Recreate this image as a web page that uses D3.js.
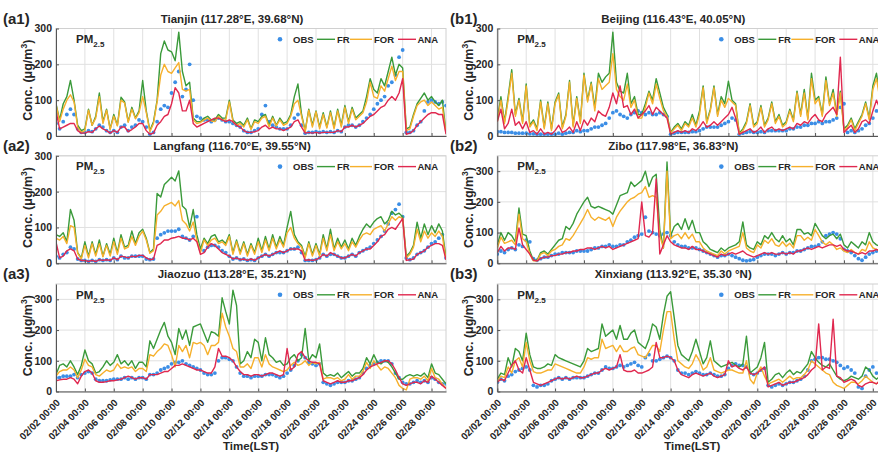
<!DOCTYPE html>
<html><head><meta charset="utf-8">
<script src="https://cdn.jsdelivr.net/npm/d3@7"></script>
<style>
body{margin:0;background:#fff}
svg{display:block}
text{font-family:"Liberation Sans",Arial,Helvetica,sans-serif;font-weight:bold;fill:#262626}
</style>
</head><body>
<svg id="chart" width="878" height="455"></svg>
<script>
// ---------- time axis (6-hourly samples from 02/02 00:00, last sample 02/29 00:00) ----------
const startLabel = "2020/02/02 00:00";
const endLabel = "2020/02/29 00:00";
const stepHours = 6;
const tickLabels = ["02/02 00:00","02/04 00:00","02/06 00:00","02/08 00:00","02/10 00:00","02/12 00:00","02/14 00:00","02/16 00:00","02/18 00:00","02/20 00:00","02/22 00:00","02/24 00:00","02/26 00:00","02/28 00:00"];
const yTicks = [0,100,200,300];
const seriesNames = ["OBS","FR","FOR","ANA"];

// ---------- Tianjin ----------
const tianjinOBS = [35,20,40,60, 75,60,20,10, 10,15,12,20, 30,25,15,10, 15,10,25,30, 15,25,30,45, 40,25,5,10, 40,75,85,80, 120,150,180,110, 130,200,100,55, 50,45,45,40, 45,50,45,40, 40,35,30,25, 15,10,10,15, 20,60,85,40, 30,25,20,20, 20,30,50,60, 30,8,10,10, 12,10,12,10, 12,10,15,12, 25,30,30,25, 30,40,50,60, 75,90,100,110, 140,150,170,220, 240,10,10,15, 30,40,70,95, 100,95,90,95, 85];
const tianjinFR = [90,45,90,110, 155,100,30,15, 20,75,30,55, 120,40,75,20, 60,30,108,95, 40,80,50,70, 155,70,15,40, 100,230,265,240, 235,210,290,180, 140,150,50,40, 40,50,55,45, 45,60,50,50, 100,45,35,40, 30,50,20,45, 40,55,60,30, 55,30,50,35, 40,60,110,145, 60,15,75,30, 70,25,65,25, 70,25,75,30, 85,40,80,50, 60,70,110,160, 130,120,160,140, 180,220,170,200, 190,20,25,60, 90,105,120,100, 110,95,85,100, 10];
const tianjinFOR = [88,40,75,100, 115,95,25,10, 15,72,30,50, 110,35,72,18, 55,28,100,92, 38,75,48,65, 110,65,12,35, 95,170,200,180, 175,190,205,130, 125,130,45,35, 38,45,50,42, 40,55,45,45, 95,40,30,35, 25,45,18,40, 35,50,55,25, 50,28,45,30, 35,55,90,100, 55,12,72,25, 68,20,60,22, 65,20,70,25, 80,35,75,45, 55,65,95,150, 110,105,140,125, 160,195,155,180, 180,15,20,55, 85,95,100,85, 95,85,75,80, 8];
const tianjinANA = [70,20,25,30, 35,35,15,8, 8,12,10,20, 28,20,15,8, 15,10,25,25, 12,18,25,35, 35,15,5,8, 30,40,55,60, 90,135,120,70, 70,100,35,25, 30,35,40,45, 50,50,45,40, 45,40,30,25, 15,10,10,12, 15,25,30,20, 25,20,20,15, 20,25,40,45, 25,8,10,8, 10,8,10,10, 10,10,15,12, 25,25,30,25, 30,35,45,55, 60,70,80,85, 100,110,100,120, 160,5,8,15, 30,40,50,60, 65,65,60,60, 5];

// ---------- Langfang ----------
const langfangOBS = [20,15,25,30, 45,40,12,8, 8,5,8,5, 10,8,10,8, 15,10,20,15, 15,20,20,20, 20,12,10,12, 70,80,85,90, 90,90,95,75, 70,65,75,130, 40,35,45,50, 50,45,35,30, 20,12,15,10, 12,8,10,8, 15,20,25,20, 25,30,30,30, 35,40,40,45, 30,8,8,8, 10,15,25,20, 25,25,20,15, 15,20,25,20, 30,35,40,45, 55,65,75,90, 110,140,150,165, 130,15,10,15, 25,30,35,45, 55,60,70,80, 15];
const langfangFR = [80,75,85,60, 150,120,30,15, 60,20,60,25, 65,20,55,25, 70,30,80,45, 50,90,55,85, 95,70,30,40, 195,185,220,230, 240,230,258,160, 150,100,150,80, 40,70,55,75, 80,60,65,55, 80,30,65,30, 60,25,55,30, 70,35,75,40, 80,45,75,50, 100,145,80,60, 50,20,60,25, 55,25,80,40, 95,40,70,45, 65,40,70,50, 75,95,110,100, 115,125,130,110, 120,145,135,140, 130,20,30,50, 115,70,110,80, 105,85,110,90, 15];
const langfangFOR = [70,65,75,55, 105,100,28,12, 50,15,55,20, 55,18,50,20, 60,25,70,40, 45,75,50,75, 90,65,28,35, 135,145,160,165, 170,160,175,120, 110,90,115,65, 30,65,50,65, 70,55,60,50, 75,25,60,25, 55,20,50,25, 60,30,65,35, 70,40,65,45, 85,100,70,55, 45,15,55,20, 50,20,70,35, 80,35,60,40, 55,35,60,45, 65,80,85,80, 95,100,105,90, 110,130,120,130, 125,15,25,45, 95,60,90,70, 85,75,90,75, 10];
const langfangANA = [60,15,20,35, 40,35,12,8, 8,5,8,5, 10,8,10,8, 15,10,20,18, 15,20,18,22, 22,15,10,12, 50,55,65,65, 70,72,75,70, 70,65,70,60, 25,30,45,55, 50,40,30,25, 20,12,15,10, 12,8,12,8, 15,20,25,20, 25,30,35,30, 35,40,40,40, 35,8,10,8, 10,15,25,20, 30,25,20,15, 15,20,25,20, 30,35,40,40, 50,60,75,80, 95,100,95,110, 125,8,10,12, 25,30,35,45, 50,55,55,50, 10];

// ---------- Jiaozuo ----------
const jiaozuoOBS = [45,45,50,50, 50,55,45,55, 60,65,60,40, 35,35,35,38, 40,40,40,45, 40,45,40,45, 45,40,55,55, 60,70,75,80, 90,95,95,100, 90,85,80,75, 70,60,55,55, 60,100,110,110, 105,100,80,60, 50,50,45,50, 50,50,55,55, 55,50,45,50, 60,70,85,100, 120,110,95,90, 85,90,30,25, 20,25,30,30, 30,35,35,40, 45,60,75,85, 90,95,100,100, 100,90,60,45, 30,25,25,30, 35,30,35,30, 45,40,30,25, 25];
const jiaozuoFR = [55,85,90,80, 100,80,55,85, 135,100,90,60, 65,80,100,85, 95,120,90,100, 85,100,75,95, 95,80,165,140, 170,200,225,180, 160,120,205,170, 200,150,210,215, 220,190,160,195, 190,180,305,260, 220,330,280,90, 100,130,110,170, 160,100,175,120, 110,95,100,85, 90,110,120,100, 110,205,100,120, 110,155,60,50, 55,50,60,45, 55,65,50,60, 60,75,110,90, 120,95,90,100, 95,80,60,40, 40,50,55,50, 55,50,60,45, 90,60,55,40, 25];
const jiaozuoFOR = [50,65,70,70, 80,70,45,70, 105,85,80,55, 50,60,70,65, 70,90,75,80, 75,80,65,75, 75,65,120,115, 130,140,155,150, 120,80,150,130, 150,110,160,155, 160,150,120,150, 150,160,255,210, 180,140,130,80, 80,90,75,110, 110,80,120,90, 80,75,70,65, 70,85,95,85, 90,100,85,95, 90,95,40,45, 45,40,45,35, 40,55,40,50, 50,65,95,75, 100,85,70,80, 75,60,45,20, 10,5,40,45, 45,40,50,35, 75,45,40,25, 10];
const jiaozuoANA = [35,38,40,40, 45,40,25,50, 65,70,60,35, 30,30,32,35, 35,38,40,45, 50,45,40,45, 45,40,55,55, 55,60,65,65, 75,85,85,90, 85,80,75,70, 70,65,60,60, 80,140,115,115, 110,100,80,65, 55,55,50,55, 55,50,55,60, 60,55,50,55, 140,70,80,120, 130,110,100,95, 95,90,35,30, 25,30,35,30, 30,35,35,40, 45,55,70,80, 85,90,95,100, 100,90,70,45, 25,20,25,30, 30,25,35,30, 50,40,30,20, 10];

// ---------- Beijing ----------
const beijingOBS = [12,12,10,10, 10,8,8,8, 8,6,6,5, 5,5,5,5, 5,8,5,8, 10,10,15,12, 15,15,20,25, 25,30,35,50, 65,70,60,55, 50,60,65,70, 65,60,65,60, 60,65,60,55, 5,8,10,10, 10,10,12,12, 15,20,25,25, 25,25,30,35, 40,50,45,5, 8,10,12,10, 10,12,10,15, 15,15,15,15, 15,20,20,25, 25,30,30,35, 35,40,35,40, 40,45,50,80, 90,10,15,10, 15,20,30,35, 50,70,60,80, 70];
const beijingFR = [45,110,40,110, 185,60,105,40, 145,30,45,20, 100,25,95,20, 95,120,25,60, 155,30,110,40, 175,100,150,80, 175,150,165,175, 290,150,125,120, 175,90,110,60, 60,90,125,100, 160,120,80,60, 10,25,35,20, 40,30,60,30, 70,140,40,75, 140,60,110,90, 153,100,90,8, 20,40,90,30, 40,85,30,50, 95,40,60,30, 40,75,45,125, 60,130,50,175, 100,110,60,165, 90,130,60,125, 20,30,50,20, 40,60,95,50, 140,175,110,150, 120];
const beijingFOR = [40,100,35,100, 175,55,100,35, 140,25,40,15, 95,20,90,15, 90,115,20,55, 150,25,105,35, 170,95,145,70, 160,130,140,150, 230,130,110,100, 145,80,100,50, 50,80,120,90, 145,105,70,55, 8,20,30,15, 35,25,50,25, 60,135,35,70, 135,55,100,80, 105,95,85,5, 15,35,85,25, 35,80,25,45, 90,35,55,25, 35,70,40,120, 55,120,45,160, 90,105,55,155, 85,120,55,120, 15,25,45,15, 35,55,90,45, 130,160,100,140, 110];
const beijingANA = [40,75,20,35, 75,30,40,20, 40,10,15,5, 20,5,10,5, 15,30,10,15, 25,10,40,15, 45,30,50,40, 70,60,55,80, 120,90,140,80, 85,60,75,50, 60,70,85,60, 80,70,60,50, 5,10,15,10, 15,10,20,15, 25,40,25,30, 40,30,40,50, 60,80,50,5, 10,15,20,10, 15,25,10,20, 25,15,20,15, 20,25,20,35, 30,40,35,50, 60,45,40,60, 70,80,60,220, 10,20,30,10, 20,40,45,35, 70,100,75,80, 80];

// ---------- Zibo ----------
const ziboOBS = [30,40,35,45, 50,45,60,55, 75,70,15,10, 15,20,20,25, 30,30,35,35, 35,35,40,40, 40,40,45,50, 50,55,55,60, 55,55,60,60, 70,75,85,90, 95,150,105,100, 95,90,95,100, 90,70,60,55, 55,50,50,50, 45,40,35,30, 25,20,25,25, 30,25,20,15, 10,8,10,12, 20,25,30,30, 30,25,30,35, 30,35,35,40, 40,45,50,55, 55,60,70,90, 95,100,95,80, 45,40,35,25, 15,10,20,30, 35,40,45,40, 45];
const ziboFR = [60,100,75,100, 90,70,180,95, 90,40,10,10, 35,40,30,45, 60,75,80,120, 110,130,160,180, 200,215,185,180, 185,180,175,170, 160,190,220,225, 230,265,250,260, 270,300,250,280, 290,110,50,330, 90,120,130,110, 145,110,140,100, 100,70,60,45, 40,35,50,40, 50,55,60,70, 135,60,50,45, 70,60,90,80, 100,80,70,90, 70,80,60,110, 110,95,100,90, 130,110,90,80, 90,95,80,95, 60,50,70,60, 50,70,60,100, 70,60,55,60, 60];
const ziboFOR = [50,85,65,70, 75,60,160,80, 70,30,8,8, 30,35,25,40, 45,55,60,80, 75,90,110,130, 150,175,150,140, 150,145,140,150, 120,150,170,185, 200,210,215,225, 230,250,215,220, 215,90,50,300, 80,90,95,80, 100,80,95,70, 70,50,40,35, 30,25,40,30, 40,45,50,55, 100,50,40,35, 60,50,75,65, 80,60,55,70, 55,65,50,90, 90,75,85,75, 110,90,70,60, 70,60,45,50, 40,35,45,35, 30,45,40,70, 50,45,40,45, 45];
const ziboANA = [35,55,40,50, 50,45,115,60, 45,30,10,8, 15,20,20,25, 25,30,30,35, 35,40,40,45, 45,50,50,45, 50,55,50,55, 45,50,55,60, 65,70,75,80, 200,90,85,100, 275,30,60,90, 70,60,55,50, 50,45,55,45, 45,40,35,30, 25,20,30,25, 30,35,30,35, 40,30,25,20, 25,30,35,30, 35,30,30,35, 30,35,30,40, 40,45,50,45, 50,55,50,55, 60,60,55,60, 45,40,40,35, 30,35,30,40, 40,45,40,35, 40];

// ---------- Xinxiang ----------
const xinxiangOBS = [30,40,35,50, 55,65,70,75, 80,70,20,15, 20,20,25,35, 40,45,40,45, 40,45,45,45, 45,50,55,60, 60,70,80,75, 75,80,85,80, 85,90,95,85, 80,110,120,100, 100,105,110,115, 110,100,70,60, 60,55,60,65, 60,55,55,60, 55,50,50,55, 75,85,90,85, 85,80,60,55, 60,70,75,20, 15,20,25,20, 25,30,30,35, 40,50,70,100, 105,110,110,105, 105,100,95,85, 75,80,70,60, 15,10,50,70, 80,60,55,50, 45];
const xinxiangFR = [40,60,55,110, 80,140,130,100, 190,120,80,75, 75,80,90,85, 120,110,105,100, 95,90,85,80, 100,140,130,135, 140,220,180,190, 200,170,215,170, 170,190,200,160, 150,140,170,220, 210,170,250,310, 325,240,150,120, 110,100,130,170, 130,90,110,165, 100,90,80,85, 90,95,85,80, 90,180,60,70, 80,110,160,30, 40,55,60,45, 60,70,55,65, 60,75,90,130, 110,95,85,80, 90,70,50,40, 35,40,50,45, 40,50,80,70, 50,40,50,55, 50];
const xinxiangFOR = [35,50,45,80, 60,100,110,80, 160,100,65,60, 60,65,70,70, 90,85,80,75, 70,65,60,60, 80,110,105,110, 110,170,140,145, 150,130,150,130, 130,140,145,120, 115,110,130,150, 150,130,200,260, 260,170,100,90, 80,75,90,120, 100,70,80,110, 70,65,60,65, 70,70,65,60, 60,100,40,25, 60,80,50,25, 30,35,40,30, 40,50,40,45, 45,55,70,100, 90,80,70,60, 55,30,20,15, 10,20,30,30, 25,35,50,40, 30,25,35,40, 40];
const xinxiangANA = [30,40,35,60, 85,100,70,60, 110,70,30,25, 20,25,30,35, 40,45,40,45, 40,45,50,45, 45,50,55,60, 60,70,75,70, 75,80,120,70, 65,65,70,60, 60,65,70,80, 160,110,110,115, 110,100,70,55, 50,45,55,60, 55,50,55,60, 50,45,50,55, 100,80,85,75, 70,80,60,55, 60,70,80,15, 20,25,30,20, 25,30,30,35, 40,45,55,70, 80,220,70,80, 75,235,50,45, 30,35,40,35, 20,15,25,30, 30,25,35,40, 40];

// ---------- panels ----------
const panels = [
  {tag:"(a1)", title:"Tianjin (117.28°E, 39.68°N)",  col:0, row:0, ymax:300, obs:tianjinOBS,  fr:tianjinFR,  fo:tianjinFOR,  ana:tianjinANA},
  {tag:"(a2)", title:"Langfang (116.70°E, 39.55°N)", col:0, row:1, ymax:300, obs:langfangOBS, fr:langfangFR, fo:langfangFOR, ana:langfangANA},
  {tag:"(a3)", title:"Jiaozuo (113.28°E, 35.21°N)",  col:0, row:2, ymax:350, obs:jiaozuoOBS,  fr:jiaozuoFR,  fo:jiaozuoFOR,  ana:jiaozuoANA},
  {tag:"(b1)", title:"Beijing (116.43°E, 40.05°N)",  col:1, row:0, ymax:300, obs:beijingOBS,  fr:beijingFR,  fo:beijingFOR,  ana:beijingANA},
  {tag:"(b2)", title:"Zibo (117.98°E, 36.83°N)",     col:1, row:1, ymax:350, obs:ziboOBS,     fr:ziboFR,     fo:ziboFOR,     ana:ziboANA},
  {tag:"(b3)", title:"Xinxiang (113.92°E, 35.30 °N)",col:1, row:2, ymax:350, obs:xinxiangOBS, fr:xinxiangFR, fo:xinxiangFOR, ana:xinxiangANA}
];

const colors = {OBS:"#3b8ee6", FR:"#3a9a3a", FOR:"#f6b02c", ANA:"#e0284f"};
const colLeft = [56, 497.3];
const tagX = [3, 450];
const rowTop = [28.5, 155.8, 284];
const plotW = 390, plotH = 107.5;

const parse = d3.timeParse("%Y/%m/%d %H:%M");
const t0 = parse(startLabel), t1 = parse(endLabel);
const tickTimes = tickLabels.map(s => parse("2020/" + s));

const svg = d3.select("#chart");
svg.append("rect").attr("width",878).attr("height",455).attr("fill","#fff");

panels.forEach((p, pi) => {
  const L = colLeft[p.col], T = rowTop[p.row];
  const g = svg.append("g").attr("transform", `translate(${L},${T})`);
  const x = d3.scaleTime().domain([t0, t1]).range([0, plotW]);
  const y = d3.scaleLinear().domain([0, p.ymax]).range([plotH, 0]);
  const times = p.fr.map((_, i) => d3.timeHour.offset(t0, i * stepHours));

  // grid
  g.append("g").selectAll("line").data(tickTimes).join("line")
    .attr("x1", d => x(d)).attr("x2", d => x(d)).attr("y1", 0).attr("y2", plotH)
    .attr("stroke", "#e0e0e0").attr("stroke-width", 1);
  g.append("g").selectAll("line").data(yTicks).join("line")
    .attr("x1", 0).attr("x2", plotW).attr("y1", d => y(d)).attr("y2", d => y(d))
    .attr("stroke", "#e0e0e0").attr("stroke-width", 1);
  g.append("rect").attr("width", plotW).attr("height", plotH)
    .attr("fill", "none").attr("stroke", "#d0d0d0");

  const clipId = "clip" + pi;
  g.append("clipPath").attr("id", clipId).append("rect")
    .attr("x", 0).attr("y", -1).attr("width", plotW).attr("height", plotH + 2);
  const pg = g.append("g").attr("clip-path", `url(#${clipId})`);

  // OBS dots
  pg.append("g").selectAll("circle").data(p.obs).join("circle")
    .attr("cx", (d, i) => x(times[i])).attr("cy", d => y(d)).attr("r", 1.9)
    .attr("fill", colors.OBS);
  const line = d3.line().x((d, i) => x(times[i])).y(d => y(d));
  [["FR", p.fr], ["FOR", p.fo], ["ANA", p.ana]].forEach(([k, arr]) => {
    pg.append("path").datum(arr).attr("d", line).attr("fill", "none")
      .attr("stroke", colors[k]).attr("stroke-width", 1.4).attr("stroke-linejoin", "round");
  });

  // axes
  const ya = d3.axisLeft(y).tickValues(yTicks).tickSize(-3).tickSizeOuter(0).tickPadding(4);
  const yg = g.append("g").call(ya);
  yg.select(".domain").attr("stroke", "#555");
  yg.selectAll(".tick line").attr("stroke", "#555");
  yg.selectAll("text").attr("font-size", 10.5).attr("fill", "#262626")
    .style("font-family", '"Liberation Sans",Arial,sans-serif').style("font-weight", "bold");

  const xa = d3.axisBottom(x).tickValues(tickTimes).tickSize(-3).tickSizeOuter(0).tickFormat("");
  const xg = g.append("g").attr("transform", `translate(0,${plotH})`).call(xa);
  xg.select(".domain").attr("stroke", "#555");
  xg.selectAll(".tick line").attr("stroke", "#555");

  if (p.row === 2) {
    g.append("g").selectAll("text").data(tickLabels).join("text")
      .attr("transform", (d, i) => `translate(${x(tickTimes[i]) + 4.6},${plotH + 12}) rotate(-45)`)
      .attr("text-anchor", "end").attr("font-size", 9.8)
      .text(d => d);
    g.append("text").attr("x", plotW / 2).attr("y", 166).attr("text-anchor", "middle")
      .attr("font-size", 11.5).text("Time(LST)");
  }

  // y label
  const yl = g.append("text").attr("transform", `translate(-24,${plotH / 2 - 2}) rotate(-90)`)
    .attr("text-anchor", "middle").attr("font-size", 12.5);
  yl.append("tspan").text("Conc. (μg/m");
  yl.append("tspan").attr("font-size", 8.5).attr("dy", -5).text("3");
  yl.append("tspan").attr("dy", 5).text(")");

  // title and tag
  g.append("text").attr("x", 176).attr("y", -6).attr("text-anchor", "middle")
    .attr("font-size", 11.5).text(p.title);
  svg.append("text").attr("x", tagX[p.col]).attr("y", T - 5).attr("font-size", 15).text(p.tag);

  // PM2.5
  const pm = g.append("text").attr("x", 20).attr("y", 14.5).attr("font-size", 11.5);
  pm.append("tspan").text("PM");
  pm.append("tspan").attr("font-size", 8).attr("dy", 4).text("2.5");

  // legend
  const ly = 10.8;
  const lg = g.append("g");
  lg.append("circle").attr("cx", 224).attr("cy", ly).attr("r", 2.3).attr("fill", colors.OBS);
  const lt = (x0, s) => lg.append("text").attr("x", x0).attr("y", ly + 3.4).attr("font-size", 9.5).text(s);
  lt(237, "OBS");
  lg.append("line").attr("x1", 261).attr("x2", 279).attr("y1", ly).attr("y2", ly).attr("stroke", colors.FR).attr("stroke-width", 1.4);
  lt(281, "FR");
  lg.append("line").attr("x1", 294).attr("x2", 316).attr("y1", ly).attr("y2", ly).attr("stroke", colors.FOR).attr("stroke-width", 1.4);
  lt(318, "FOR");
  lg.append("line").attr("x1", 342).attr("x2", 360).attr("y1", ly).attr("y2", ly).attr("stroke", colors.ANA).attr("stroke-width", 1.4);
  lt(361.5, "ANA");
});
</script>
</body></html>
